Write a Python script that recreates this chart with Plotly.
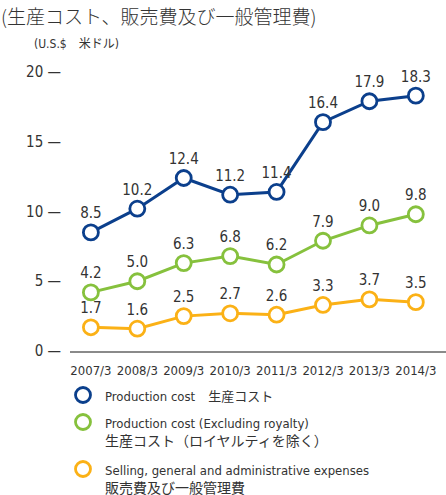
import plotly.graph_objects as go

years = ["2007/3", "2008/3", "2009/3", "2010/3", "2011/3", "2012/3", "2013/3", "2014/3"]
production_cost = [8.5, 10.2, 12.4, 11.2, 11.4, 16.4, 17.9, 18.3]
production_ex_royalty = [4.2, 5.0, 6.3, 6.8, 6.2, 7.9, 9.0, 9.8]
sga_expenses = [1.7, 1.6, 2.5, 2.7, 2.6, 3.3, 3.7, 3.5]
y_ticks = [0, 5, 10, 15, 20]

series_names = [
    ["Production cost　生産コスト"],
    ["Production cost (Excluding royalty)", "生産コスト（ロイヤルティを除く）"],
    ["Selling, general and administrative expenses", "販売費及び一般管理費"],
]
series_values = [production_cost, production_ex_royalty, sga_expenses]
series_colors = ["#0b3f8c", "#86c13d", "#fbb116"]

FONT = "DejaVu Sans Condensed, Liberation Sans Narrow, Noto Sans CJK JP, sans-serif"
TEXT = "#333333"

# plot area geometry in pixels (for the hand-built legend)
L, T, W, H = 70, 51, 376, 300


def px_to_paper(x, y):
    return (x - L) / W, (T + H - y) / H


fig = go.Figure()
for vals, color in zip(series_values, series_colors):
    fig.add_trace(go.Scatter(
        x=years, y=vals, mode="lines+markers+text",
        text=[f"{v:.1f}" for v in vals], textposition="top center",
        textfont=dict(size=15, color=TEXT, family=FONT),
        line=dict(color=color, width=3),
        marker=dict(size=15, color="white", line=dict(color=color, width=2.8)),
        cliponaxis=False, showlegend=False,
    ))

shapes, annotations = [], []
legend_rows = [395, 422, 469]
for names, color, row in zip(series_names, series_colors, legend_rows):
    mx, my = px_to_paper(83, row)
    shapes.append(dict(
        type="circle", xref="paper", yref="paper",
        xsizemode="pixel", ysizemode="pixel", xanchor=mx, yanchor=my,
        x0=-7.5, x1=7.5, y0=-7.5, y1=7.5,
        line=dict(color=color, width=2.8), fillcolor="white",
    ))
    for i, name in enumerate(names):
        tx, ty = px_to_paper(103, row + 1 + 18 * i)
        # the Japanese-only second lines are set slightly larger
        annotations.append(dict(
            text=name, xref="paper", yref="paper", x=tx, y=ty,
            xanchor="left", yanchor="middle", showarrow=False,
            font=dict(size=14 if i else 13, color=TEXT, family=FONT),
        ))

annotations += [
    dict(text="(生産コスト、販売費及び一般管理費)", xref="paper", yref="paper",
         x=-0.19, y=1.0, xanchor="left", yanchor="bottom", yshift=20, showarrow=False,
         font=dict(size=19, color=TEXT, family="Noto Sans CJK JP", weight=300)),
    dict(text="(U.S.$　米ドル)", xref="paper", yref="paper",
         x=-0.1, y=1.0, xanchor="left", yanchor="bottom", yshift=-2, showarrow=False,
         font=dict(size=12, color=TEXT, family=FONT)),
]

fig.update_layout(
    width=446, height=495,
    margin=dict(l=L, r=0, t=T, b=495 - T - H),
    plot_bgcolor="white", paper_bgcolor="white",
    font=dict(family=FONT, color=TEXT, size=13),
    showlegend=False,
    xaxis=dict(
        type="category", range=[-0.45, 7.65],
        showgrid=False, zeroline=False,
        showline=True, linecolor="#8a8a8a", linewidth=2,
        ticks="", tickfont=dict(size=13, color=TEXT), tickangle=0,
        ticklabelstandoff=6,
    ),
    yaxis=dict(
        range=[0, 21.5], tickvals=y_ticks,
        ticktext=[f"{t} —" for t in y_ticks],
        showgrid=False, zeroline=False, showline=False,
        tickfont=dict(size=15, color=TEXT), ticklabelstandoff=8,
    ),
    shapes=shapes,
    annotations=annotations,
)

fig.write_html("out.html")
